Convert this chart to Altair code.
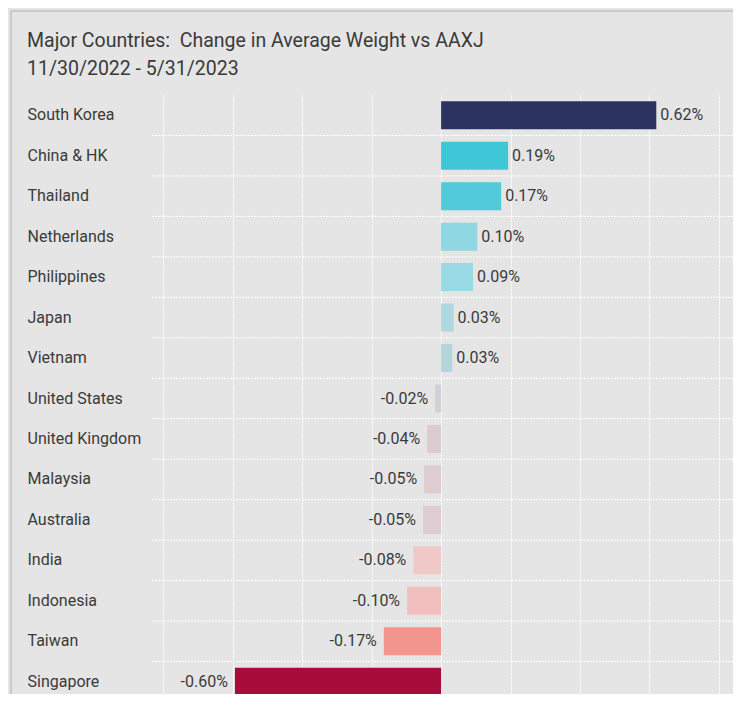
import altair as alt
import pandas as pd

countries = ["South Korea", "China & HK", "Thailand", "Netherlands", "Philippines",
             "Japan", "Vietnam", "United States", "United Kingdom", "Malaysia",
             "Australia", "India", "Indonesia", "Taiwan", "Singapore"]
values = [0.62, 0.193, 0.173, 0.104, 0.092, 0.036, 0.032, -0.017, -0.040, -0.049,
          -0.052, -0.080, -0.098, -0.165, -0.594]
labels = ["0.62%", "0.19%", "0.17%", "0.10%", "0.09%", "0.03%", "0.03%", "-0.02%",
          "-0.04%", "-0.05%", "-0.05%", "-0.08%", "-0.10%", "-0.17%", "-0.60%"]
colors = ["#2c3360", "#3fc6d7", "#52cad9", "#8fd7e3", "#99d9e4", "#afd8df", "#b5d5dc",
          "#d0d0d6", "#dccbcf", "#dfccd0", "#dfccd0", "#f0c8c8", "#f1bfbd", "#f2958d",
          "#a70d3a"]
grid_values = [-0.8, -0.6, -0.4, -0.2, 0.0, 0.2, 0.4, 0.6, 0.8]
title_lines = ["Major Countries:\u00a0 Change in Average Weight vs AAXJ", "11/30/2022 - 5/31/2023"]

df = pd.DataFrame({"country": countries, "value": values, "label": labels})
FONT = "Roboto"
TXT = "#3a3a3a"
BORDER = "#c9c9c9"
DASH = [2, 1]

y_enc = alt.Y("country:N", sort=countries,
              scale=alt.Scale(paddingInner=0, paddingOuter=0),
              axis=alt.Axis(title=None, ticks=False, domain=False, grid=False,
                            labelAlign="left", labelPadding=125, labelFontSize=16,
                            labelFont=FONT, labelColor=TXT, labelBaseline="middle"))
x_scale = alt.Scale(domain=[-0.833, 0.841], nice=False, zero=True)

one = pd.DataFrame({"a": [0]})
border_top = alt.Chart(one).mark_rule(color=BORDER, strokeWidth=2).encode(
    x=alt.value(-141), x2=alt.value(700), y=alt.value(-84))
border_left = alt.Chart(one).mark_rule(color=BORDER, strokeWidth=2).encode(
    x=alt.value(-141), y=alt.value(-84), y2=alt.value(700))

base = alt.Chart(df)

bars = base.mark_bar(height=28).encode(
    y=y_enc,
    x=alt.X("value:Q", scale=x_scale,
            axis=alt.Axis(title=None, values=grid_values, labels=False, ticks=False,
                          domain=False, grid=True, gridColor="white", gridDash=DASH,
                          gridWidth=1, gridOpacity=1)),
    color=alt.Color("country:N", scale=alt.Scale(domain=countries, range=colors), legend=None),
)

hrules = base.transform_filter(alt.datum.country != countries[0]).mark_rule(
    color="white", strokeDash=DASH, strokeWidth=1
).encode(y=alt.Y("country:N", sort=countries, bandPosition=0))

pos_text = base.transform_filter(alt.datum.value >= 0).mark_text(
    align="left", baseline="middle", dx=4, fontSize=16, font=FONT, color=TXT
).encode(y=alt.Y("country:N", sort=countries), x=alt.X("value:Q"), text="label:N")

neg_text = base.transform_filter(alt.datum.value < 0).mark_text(
    align="right", baseline="middle", dx=-7, fontSize=16, font=FONT, color=TXT
).encode(y=alt.Y("country:N", sort=countries), x=alt.X("value:Q"), text="label:N")

chart = alt.layer(hrules, bars, pos_text, neg_text, border_top, border_left).properties(
    width=581, height=607,
    title=alt.TitleParams(
        text=title_lines, anchor="start", frame="group", dx=-125,
        fontSize=19.5, font=FONT, fontWeight="normal", color=TXT,
        lineHeight=28, offset=-69),
    autosize=alt.AutoSizeParams(type="none"),
    padding={"left": 144, "top": 87, "right": 0, "bottom": -8},
    background="#e5e5e5",
).configure_view(stroke=None)

chart.save("out.html", embed_options={"renderer": "svg", "actions": False})
